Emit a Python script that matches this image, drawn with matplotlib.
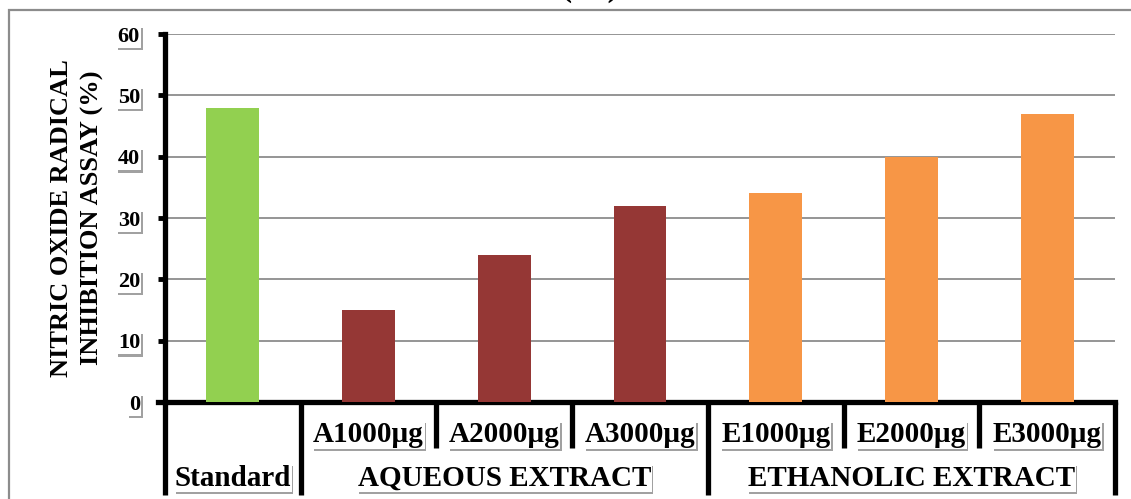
import matplotlib
matplotlib.use("Agg")
import matplotlib.pyplot as plt
import matplotlib.patheffects as pe
from matplotlib.patches import Rectangle
from matplotlib.transforms import blended_transform_factory

# Data
categories = ["Standard", "A1000µg", "A2000µg", "A3000µg", "E1000µg", "E2000µg", "E3000µg"]
values = [48, 15, 24, 32, 34, 40, 47]
colors = ["#92D050", "#953735", "#953735", "#953735", "#F79646", "#F79646", "#F79646"]
groups = ["AQUEOUS EXTRACT", "ETHANOLIC EXTRACT"]
yticks = [0, 10, 20, 30, 40, 50, 60]
ylabel = "NITRIC OXIDE RADICAL\nINHIBITION ASSAY (%)"

plt.rcParams["font.family"] = ["Liberation Serif", "DejaVu Serif"]
plt.rcParams["font.weight"] = "bold"

W, H = 1131, 499
fig = plt.figure(figsize=(W / 100, H / 100), dpi=100)
fig.patch.set_facecolor("white")

# outer frame of the figure
fig.add_artist(Rectangle((9 / W, -0.05), 1.2, 1 - 10 / H + 0.05, transform=fig.transFigure,
                         fill=False, edgecolor="#8c8c8c", linewidth=1.6))

# caption at the top, mostly above the visible area
fig.text(590 / W, 1 + 4 / H, "( b )", ha="center", va="baseline", fontsize=24,
         fontweight="bold", color="black")

ax_left, ax_right, ax_top, ax_bot = 165, 1115, 34, 402
ax = fig.add_axes([ax_left / W, 1 - ax_bot / H, (ax_right - ax_left) / W, (ax_bot - ax_top) / H])

x = list(range(len(categories)))
ax.bar(x, values, width=0.39, color=colors, zorder=3)

ax.set_xlim(-0.5, len(categories) - 0.5)
ax.set_ylim(0, 60)
ax.set_yticks(yticks)
ax.yaxis.grid(True, color="#8c8c8c", linewidth=1.3, zorder=0)
ax.set_axisbelow(True)

for s in ["top", "right"]:
    ax.spines[s].set_visible(False)
ax.spines["left"].set_linewidth(3.8)
ax.spines["bottom"].set_linewidth(3.8)
ax.spines["bottom"].set_bounds(-0.55, len(categories) - 0.5)
ax.spines["bottom"].set_capstyle("projecting")

ax.set_xticks([])
ax.tick_params(axis="y", direction="out", length=5, width=3.5, pad=13, labelsize=16)

shadow = [pe.SimplePatchShadow(offset=(1.2, -1.6), shadow_rgbFace="#555555", alpha=0.55),
          pe.Normal()]

for lbl in ax.get_yticklabels():
    lbl.set_fontweight("bold")
    lbl.set_bbox(dict(facecolor="white", edgecolor="none", pad=0.8))
    lbl.get_bbox_patch().set_path_effects(shadow)

# multi-level category axis
trans = blended_transform_factory(ax.transData, ax.transAxes)
axh = ax_bot - ax_top
long_end = -(495 - ax_bot) / axh
short_end = -(448 - ax_bot) / axh
for b in [-0.5, 0.5, 3.5, 6.5]:
    ax.plot([b, b], [0, long_end], transform=trans, color="black", lw=3.8,
            clip_on=False, solid_capstyle="butt")
for b in [1.5, 2.5, 4.5, 5.5]:
    ax.plot([b, b], [0, short_end], transform=trans, color="black", lw=3.8,
            clip_on=False, solid_capstyle="butt")

lvl1 = -(435 - ax_bot) / axh
lvl2 = -(478 - ax_bot) / axh


def label(xp, yp, s):
    t = ax.text(xp, yp, s, transform=trans, ha="center", va="center", fontsize=21,
                fontweight="bold", color="black",
                bbox=dict(facecolor="white", edgecolor="none", pad=0.5))
    t.get_bbox_patch().set_path_effects(shadow)
    return t


for i, c in enumerate(categories):
    if i == 0:
        label(i, lvl2, c)
    else:
        label(i, lvl1, c)
label(2, lvl2, groups[0])
label(5, lvl2, groups[1])

# y-axis title
fig.text(77 / W, 1 - 218 / H, ylabel, rotation=90, ha="center", va="center",
         multialignment="center", fontsize=19, fontweight="bold", linespacing=1.45)

fig.savefig("out.png", dpi=100, facecolor="white")
